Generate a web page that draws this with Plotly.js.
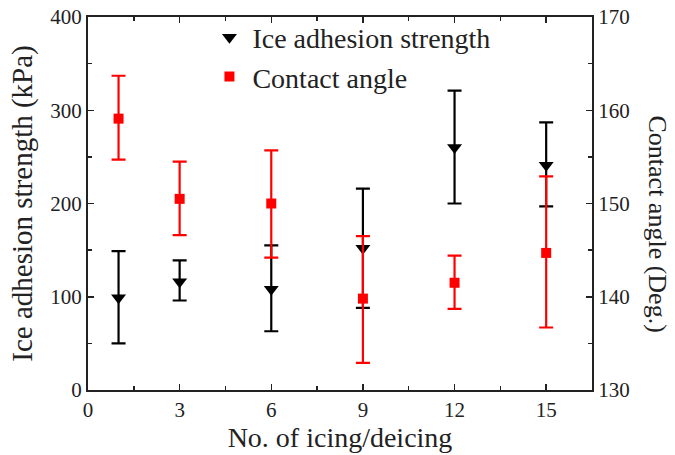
<!DOCTYPE html>
<html><head><meta charset="utf-8">
<script src="https://cdn.plot.ly/plotly-3.0.1.min.js"></script>
<style>body{margin:0;background:#fff}#c{width:675px;height:455px}</style>
</head><body><div id="c"></div>
<script>
const cycles = [1, 3, 6, 9, 12, 15];
const iceStrength = [99, 116, 108, 152, 260, 241];
const iceErrPlus = [50, 23, 47, 64, 61, 46];
const iceErrMinus = [49, 20, 45, 64, 60, 44];
const contactAngle = [159.1, 150.5, 150.0, 139.8, 141.5, 144.7];
const caErrPlus = [4.6, 4.0, 5.7, 6.7, 2.9, 8.2];
const caErrMinus = [4.4, 3.9, 5.8, 6.9, 2.8, 8.0];
const xTicks = [0, 3, 6, 9, 12, 15];

const FONT = "'Liberation Serif', 'Times New Roman', serif";

const traces = [
  {x: cycles, y: iceStrength, type: 'scatter', mode: 'markers', name: 'Ice adhesion strength',
   marker: {symbol: 'triangle-down', size: 13, color: '#000'},
   error_y: {type: 'data', symmetric: false, array: iceErrPlus, arrayminus: iceErrMinus, color: '#000', thickness: 2.2, width: 7},
   yaxis: 'y'},
  {x: cycles, y: contactAngle, type: 'scatter', mode: 'markers', name: 'Contact angle',
   marker: {symbol: 'square', size: 10, color: '#ff0000'},
   error_y: {type: 'data', symmetric: false, array: caErrPlus, arrayminus: caErrMinus, color: '#ff0000', thickness: 2.2, width: 7},
   yaxis: 'y2'}
];

const axBase = {showline: true, linecolor: '#222', linewidth: 2, ticks: 'inside', ticklen: 6, tickwidth: 1.5, tickcolor: '#222',
  showgrid: false, zeroline: false, tickfont: {family: FONT, size: 21, color: '#222'}};

const layout = {
  width: 675, height: 455,
  margin: {l: 88, r: 83, t: 17, b: 65},
  paper_bgcolor: '#fff', plot_bgcolor: '#fff',
  font: {family: FONT, color: '#222'},
  showlegend: true,
  legend: {x: 0.235, y: 1.012, xanchor: 'left', yanchor: 'top', bgcolor: 'rgba(0,0,0,0)', itemwidth: 36,
    font: {family: FONT, size: 28, color: '#222'}, tracegroupgap: 0},
  xaxis: Object.assign({}, axBase, {range: [0, 16.5], tickvals: xTicks, mirror: 'ticks',
    minor: {dtick: 1.5, tick0: 0, ticks: 'inside', ticklen: 4, tickcolor: '#222', tickwidth: 1.5},
    title: {text: 'No. of icing/deicing', font: {family: FONT, size: 28, color: '#222'}, standoff: 0}}),
  yaxis: Object.assign({}, axBase, {range: [0, 400], dtick: 100, mirror: true,
    minor: {dtick: 50, ticks: 'inside', ticklen: 4, tickcolor: '#222', tickwidth: 1.5},
    title: {text: 'Ice adhesion strength (kPa)', font: {family: FONT, size: 29, color: '#222'}, standoff: 9}}),
  yaxis2: Object.assign({}, axBase, {range: [130, 170], dtick: 10, overlaying: 'y', side: 'right',
    minor: {dtick: 5, ticks: 'inside', ticklen: 4, tickcolor: '#222', tickwidth: 1.5}}),
  annotations: [{text: 'Contact angle (Deg.)', xref: 'paper', yref: 'paper', x: 1.13, y: 0.445, textangle: 90,
    showarrow: false, font: {family: FONT, size: 26, color: '#222'}, xanchor: 'center', yanchor: 'middle'}]
};

Plotly.newPlot('c', traces, layout, {displayModeBar: false, staticPlot: true});
</script>
</body></html>
